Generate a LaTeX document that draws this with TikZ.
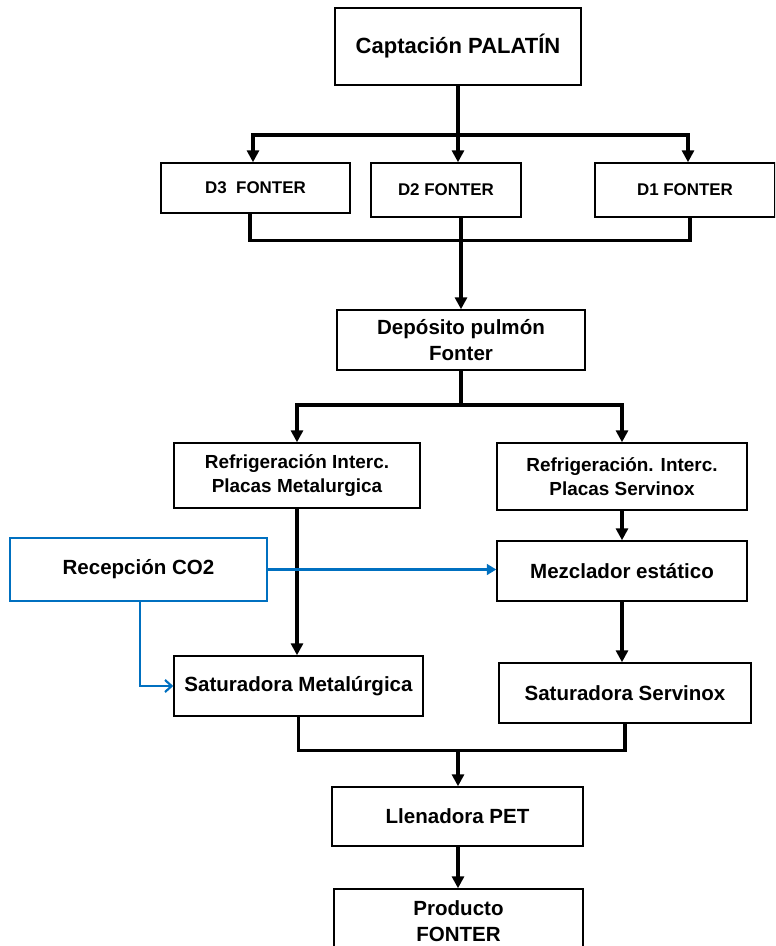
\documentclass[tikz,border=0pt]{standalone}
\usepackage[rgb]{xcolor}
\usepackage{fontspec}
\setmainfont{Liberation Sans}
\usepackage{tikz}
\usetikzlibrary{arrows.meta}

\definecolor{co2blue}{RGB}{0,112,192}

\begin{document}
\begin{tikzpicture}[x=0.75pt, y=-0.75pt,
  box/.style={draw, line width=1.1pt, align=center, inner sep=0pt},
  sz/.style 2 args={minimum width=#1*0.75pt, minimum height=#2*0.75pt},
  bigtxt/.style={font=\fontsize{16.5pt}{19pt}\selectfont\bfseries},
  txt/.style={font=\fontsize{15.4pt}{19.5pt}\selectfont\bfseries},
  midtxt/.style={font=\fontsize{14.2pt}{17.5pt}\selectfont\bfseries},
  smalltxt/.style={font=\fontsize{12.7pt}{15pt}\selectfont\bfseries},
  link/.style={line width=2.4pt},
  arr/.style={link, -{Triangle[length=9pt,width=9pt]}},
  bluelink/.style={draw=co2blue, line width=1.6pt},
  bluearr/.style={bluelink, -{Triangle[length=7pt,width=8pt]}},
  bluebarb/.style={bluelink, -{Straight Barb[length=5pt,width=9pt]}}]

\useasboundingbox (0,0) rectangle (775,946);
\clip (0,0) rectangle (775,946);

% process steps
\node[box, bigtxt, sz={246}{77}] (cap) at (458,46.5) {Captación PALATÍN};
\node[box, smalltxt, sz={189}{50}] (d3) at (255.5,188) {D3 \ FONTER};
\node[box, smalltxt, sz={150}{54}] (d2) at (446,190) {D2 FONTER};
\node[box, smalltxt, sz={180}{54}] (d1) at (685,190) {D1 FONTER};
\node[box, txt, sz={248}{60}] (dep) at (461,340) {Depósito pulmón\\Fonter};
\node[box, midtxt, sz={246}{65}] (refM) at (297,475.5) {Refrigeración Interc.\\Placas Metalurgica};
\node[box, midtxt, sz={250}{67}] (refS) at (622,476.5) {Refrigeración. Interc.\\Placas Servinox};
\node[box, txt, draw=co2blue, line width=2.2pt, sz={257}{63}] (co2) at (138.5,569.5) {Recepción CO2};
\node[box, txt, sz={250}{60}] (mez) at (622,571) {Mezclador estático};
\node[box, txt, sz={249}{60}] (satM) at (298.5,686) {Saturadora Metalúrgica};
\node[box, txt, sz={252}{60}] (satS) at (625,693) {Saturadora Servinox};
\node[box, txt, sz={251}{59}] (llen) at (457.5,816.5) {Llenadora PET};
\node[box, txt, sz={249}{64}] (prod) at (458.5,921) {Producto\\FONTER};

% reservoirs
\coordinate (split1) at (458,135);
\draw[link] (cap.south) -- (split1);
\draw[arr] (split1) -- (split1 |- d2.north);
\draw[arr] (split1) -| ([xshift=-2.5*0.75pt]d3.north);
\draw[arr] (split1) -| ([xshift=3*0.75pt]d1.north);

\draw[link] ([xshift=-5.5*0.75pt]d3.south) -- ++(0,27) -| ([xshift=5*0.75pt]d1.south);
\draw[arr] (dep.north |- d2.south) -- (dep.north);

% coolers
\coordinate (split2) at (461,405);
\draw[link] (dep.south) -- (split2);
\draw[arr] (split2) -| (refM.north);
\draw[arr] (split2) -| (refS.north);

\draw[arr] (refM.south) -- (refM.south |- satM.north);
\draw[arr] (refS.south) -- (mez.north);
\draw[arr] (mez.south) -- (mez.south |- satS.north);

% CO2
\draw[bluearr] (co2.east) -- (co2.east -| mez.west);
\draw[bluebarb] ([xshift=1.5*0.75pt]co2.south) |- (satM.west);

% filling
\coordinate (join) at (458,750);
\draw[link] (satM.south) -- ++(0,34) -| (satS.south);
\draw[arr] (join) -- (join |- llen.north);
\draw[arr] (join |- llen.south) -- (join |- prod.north);

\end{tikzpicture}
\end{document}
